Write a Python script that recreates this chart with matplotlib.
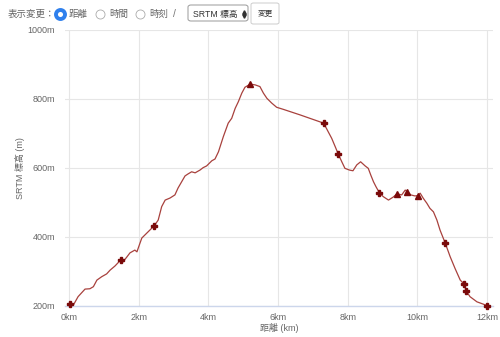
import matplotlib
matplotlib.use("Agg")
import matplotlib.pyplot as plt
from matplotlib.patches import FancyBboxPatch
from matplotlib.lines import Line2D

plt.rcParams["font.family"] = ["Liberation Sans", "Noto Sans CJK JP", "DejaVu Sans"]

# elevation profile (distance km, elevation m)
dist_km = [0.03, 0.11, 0.26, 0.46, 0.60, 0.70, 0.80, 0.94, 1.08, 1.18, 1.32, 1.48, 1.55,
           1.66, 1.75, 1.89, 1.95, 2.04, 2.09, 2.18, 2.27, 2.45, 2.56, 2.66, 2.76, 2.90,
           3.04, 3.13, 3.33, 3.42, 3.52, 3.62, 3.76, 3.85, 3.95, 4.10, 4.19, 4.29, 4.43,
           4.57, 4.67, 4.77, 4.86, 4.96, 5.05, 5.20, 5.34, 5.48, 5.58, 5.68, 5.82, 5.96,
           6.15, 6.63, 7.31, 7.44, 7.54, 7.64, 7.73, 7.83, 7.92, 8.05, 8.15, 8.26, 8.37,
           8.50, 8.59, 8.66, 8.74, 8.81, 8.91, 9.02, 9.17, 9.31, 9.41, 9.55, 9.65, 9.71,
           9.81, 9.93, 10.01, 10.08, 10.17, 10.27, 10.36, 10.46, 10.56, 10.65, 10.80,
           10.94, 11.08, 11.23, 11.34, 11.40, 11.51, 11.71, 12.01]
elev_m = [206, 200, 227, 249, 250, 256, 275, 285, 293, 304, 316, 333, 328,
          342, 354, 362, 357, 383, 397, 406, 415, 433, 449, 488, 507, 513,
          522, 542, 577, 583, 589, 586, 594, 601, 606, 621, 626, 647, 691,
          730, 744, 773, 792, 817, 834, 843, 841, 836, 817, 802, 788, 776,
          770, 754, 730, 705, 686, 662, 640, 618, 599, 594, 592, 609, 618,
          606, 599, 580, 560, 546, 528, 517, 507, 516, 525, 522, 536, 531,
          522, 519, 520, 527, 512, 498, 483, 473, 449, 420, 382,
          343, 309, 275, 264, 244, 227, 212, 201]

# waypoints
point_km = [0.03, 1.48, 2.45, 7.31, 7.73, 8.91, 10.80, 11.34, 11.40, 12.01]
point_m = [206, 333, 433, 730, 640, 528, 382, 264, 244, 201]
summit_km = [5.20, 9.41, 9.71, 10.01]
summit_m = [843, 525, 531, 520]

x_ticks = [0, 2, 4, 6, 8, 10, 12]
y_ticks = [200, 400, 600, 800, 1000]

fig = plt.figure(figsize=(5, 3.37), dpi=100)
ax = fig.add_axes([0.13, 0.092, 0.856, 0.819])

ax.plot(dist_km, elev_m, color="#a8413d", lw=0.9, zorder=3)
ax.plot(point_km, point_m, "P", color="#7a0a0a", ms=4.5, mec="#7a0a0a", lw=0, zorder=4, clip_on=False)
ax.plot(summit_km, summit_m, "^", color="#7a0a0a", ms=4.5, lw=0, zorder=4, clip_on=False)

ax.set_xlim(-0.115, 12.17)
ax.set_ylim(200, 1000)
ax.set_xticks(x_ticks)
ax.set_xticklabels([f"{t}km" for t in x_ticks])
ax.set_yticks(y_ticks)
ax.set_yticklabels([f"{t}m" for t in y_ticks])
ax.grid(True, color="#e6e6e6", lw=0.8)
for s in ["top", "right", "left"]:
    ax.spines[s].set_visible(False)
ax.spines["bottom"].set_color("#ccd6eb")
ax.spines["bottom"].set_linewidth(1.0)
ax.tick_params(axis="both", length=0, labelsize=6.5, labelcolor="#666666")
ax.tick_params(axis="x", pad=5)
ax.tick_params(axis="y", pad=7)
ax.set_xlabel("距離 (km)", fontsize=6.5, color="#666666")
ax.set_ylabel("SRTM 標高 (m)", fontsize=6.5, color="#666666")
ax.xaxis.set_label_coords(0.5, -0.062)
ax.yaxis.set_label_coords(-0.093, 0.5)

# control bar at the top
ty = 1 - 14 / 337
fs = 6.8


def radio(cx, checked):
    if checked:
        fig.add_artist(Line2D([cx / 500], [ty], marker="o", ms=6.5, mfc="white", mec="#2f80ed",
                              mew=2.8, lw=0, transform=fig.transFigure))
    else:
        fig.add_artist(Line2D([cx / 500], [ty], marker="o", ms=6.5, mfc="white", mec="#aaaaaa",
                              mew=0.6, lw=0, transform=fig.transFigure))


fig.text(8 / 500, ty, "表示変更：", fontsize=fs, color="#666666", va="center")
radio(60, True)
fig.text(69 / 500, ty, "距離", fontsize=fs, color="#666666", va="center")
for cx, label in [(100, "時間"), (140, "時刻")]:
    radio(cx, False)
    fig.text((cx + 9) / 500, ty, label, fontsize=fs, color="#666666", va="center")
fig.text(173 / 500, ty, "/", fontsize=7.5, color="#777777", va="center")
fig.add_artist(FancyBboxPatch((188 / 500, 1 - 21 / 337), 60 / 500, 16 / 337,
                              boxstyle="round,pad=0,rounding_size=0.006",
                              transform=fig.transFigure, facecolor="white",
                              edgecolor="#999999", lw=0.7))
fig.text(193 / 500, ty, "SRTM 標高", fontsize=6.3, color="#333333", va="center")
fig.add_artist(Line2D([243.5 / 500], [ty + 2.2 / 337], marker="^", ms=2.5, color="#333333",
                      lw=0, transform=fig.transFigure))
fig.add_artist(Line2D([243.5 / 500], [ty - 2.2 / 337], marker="v", ms=2.5, color="#333333",
                      lw=0, transform=fig.transFigure))
fig.add_artist(FancyBboxPatch((251 / 500, 1 - 24 / 337), 28 / 500, 21 / 337,
                              boxstyle="round,pad=0,rounding_size=0.005",
                              transform=fig.transFigure, facecolor="white",
                              edgecolor="#cccccc", lw=0.7))
fig.text(265 / 500, ty, "変更", fontsize=5.5, color="#333333", va="center", ha="center")

fig.savefig("out.png", dpi=100)
